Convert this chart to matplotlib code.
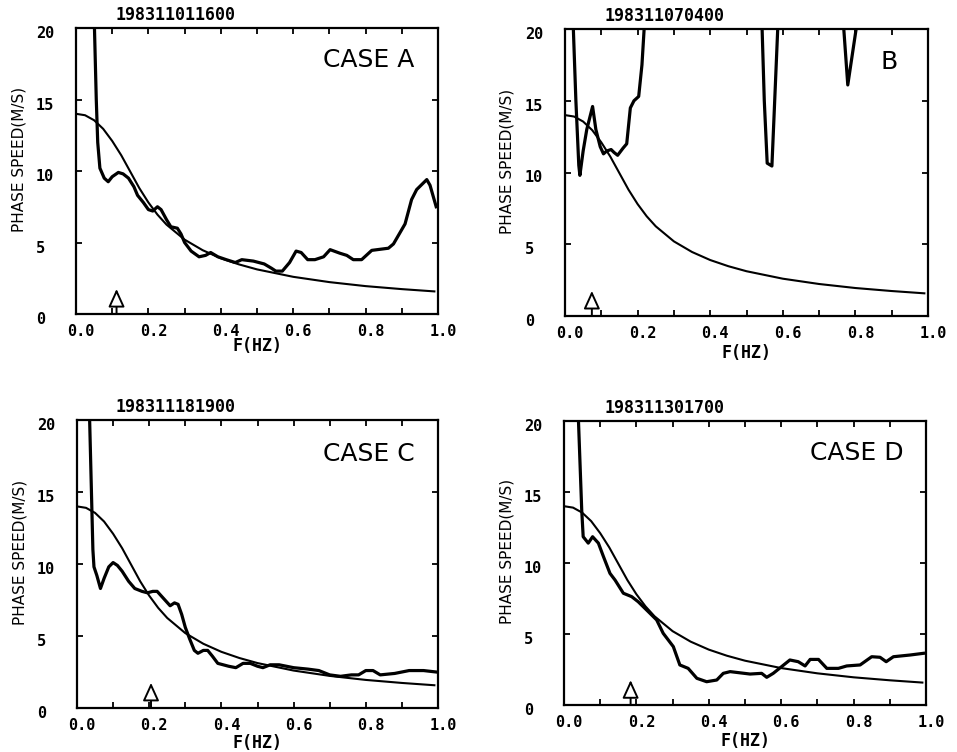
import numpy as np
import matplotlib
matplotlib.use('Agg')
import matplotlib.pyplot as plt
from matplotlib.ticker import MultipleLocator
from matplotlib.transforms import ScaledTranslation

nan = np.nan

# theoretical phase speed curve (same in all four panels)
model_f = [0.0, 0.025, 0.05, 0.075, 0.1, 0.125, 0.15, 0.175, 0.2, 0.225, 0.25, 0.3, 0.35,
           0.4, 0.45, 0.5, 0.6, 0.7, 0.8, 0.9, 0.99]
model_c = [14.0, 13.9, 13.55, 12.95, 12.1, 11.1, 9.95, 8.8, 7.8, 6.95, 6.25, 5.2, 4.46,
           3.9, 3.47, 3.12, 2.6, 2.23, 1.95, 1.74, 1.58]

# measured curves
a_f = [0.051, 0.056, 0.060, 0.066, 0.078, 0.089, 0.100, 0.117, 0.130, 0.145, 0.160, 0.170,
       0.186, 0.200, 0.212, 0.225, 0.235, 0.250, 0.262, 0.280, 0.290, 0.300, 0.318, 0.340,
       0.358, 0.372, 0.392, 0.415, 0.440, 0.458, 0.490, 0.520, 0.540, 0.552, 0.570, 0.590,
       0.608, 0.622, 0.640, 0.660, 0.684, 0.702, 0.729, 0.748, 0.766, 0.789, 0.817, 0.863,
       0.877, 0.909, 0.927, 0.941, 0.969, 0.978, 0.995]
a_c = [20.0, 15.0, 12.0, 10.2, 9.5, 9.25, 9.6, 9.9, 9.8, 9.5, 8.9, 8.3,
       7.8, 7.3, 7.2, 7.5, 7.3, 6.6, 6.1, 6.0, 5.6, 5.0, 4.4, 4.0,
       4.1, 4.3, 4.0, 3.8, 3.6, 3.8, 3.7, 3.5, 3.2, 3.0, 3.0, 3.6,
       4.4, 4.3, 3.8, 3.8, 4.0, 4.5, 4.25, 4.1, 3.8, 3.8, 4.45, 4.6,
       4.9, 6.3, 8.0, 8.7, 9.4, 9.0, 7.5]

b_f = [0.023, 0.030, 0.038, 0.041, 0.050, 0.060, 0.076, 0.085, 0.097, 0.106, 0.115, 0.127,
       0.135, 0.145, 0.160, 0.170, 0.180, 0.190, 0.203, 0.212, 0.218,
       0.30,
       0.543, 0.549, 0.557, 0.570, 0.576, 0.586,
       0.70,
       0.768, 0.779, 0.802]
b_c = [20.0, 15.0, 10.5, 9.8, 11.5, 13.0, 14.6, 13.0, 11.8, 11.3, 11.5, 11.6,
       11.4, 11.2, 11.7, 12.0, 14.5, 15.0, 15.3, 17.5, 20.0,
       nan,
       20.0, 15.0, 10.65, 10.45, 14.0, 20.0,
       nan,
       20.0, 16.1, 20.0]

c_f = [0.035, 0.040, 0.044, 0.047, 0.055, 0.065, 0.075, 0.088, 0.100, 0.112, 0.125, 0.143,
       0.160, 0.180, 0.195, 0.210, 0.222, 0.240, 0.258, 0.270, 0.280, 0.290, 0.300, 0.312,
       0.325, 0.335, 0.350, 0.362, 0.375, 0.390, 0.420, 0.440, 0.460, 0.480, 0.500, 0.515,
       0.535, 0.560, 0.600, 0.640, 0.670, 0.700, 0.730, 0.760, 0.780, 0.800, 0.820, 0.840,
       0.880, 0.920, 0.960, 0.995]
c_c = [20.0, 15.0, 11.0, 9.8, 9.2, 8.3, 9.0, 9.8, 10.1, 9.9, 9.5, 8.8,
       8.3, 8.1, 8.0, 8.1, 8.1, 7.6, 7.1, 7.3, 7.2, 6.5, 5.6, 4.8,
       4.0, 3.8, 4.0, 4.0, 3.6, 3.1, 2.9, 2.8, 3.1, 3.1, 2.9, 2.8,
       3.0, 3.0, 2.8, 2.7, 2.6, 2.3, 2.2, 2.3, 2.3, 2.6, 2.6, 2.3,
       2.4, 2.6, 2.6, 2.5]

d_f = [0.040, 0.049, 0.053, 0.067, 0.079, 0.095, 0.109, 0.127, 0.141, 0.164, 0.187, 0.205,
       0.233, 0.256, 0.274, 0.302, 0.320, 0.343, 0.367, 0.394, 0.422, 0.440, 0.459, 0.514,
       0.546, 0.560, 0.578, 0.601, 0.624, 0.647, 0.666, 0.680, 0.703, 0.726, 0.758, 0.781,
       0.818, 0.850, 0.873, 0.890, 0.910, 0.956, 0.993]
d_c = [20.0, 13.7, 11.85, 11.4, 11.85, 11.4, 10.45, 9.27, 8.8, 7.87, 7.63, 7.27,
       6.57, 5.99, 5.05, 4.11, 2.82, 2.58, 1.88, 1.64, 1.76, 2.23, 2.35, 2.18,
       2.23, 1.95, 2.23, 2.7, 3.17, 3.05, 2.75, 3.21, 3.21, 2.58, 2.58, 2.75,
       2.82, 3.4, 3.36, 3.05, 3.4, 3.52, 3.64]

titles = ['198311011600', '198311070400', '198311181900', '198311301700']
cases = ['CASE A', 'B', 'CASE C', 'CASE D']
arrow_f = [0.112, 0.074, 0.205, 0.184]
measured = [(a_f, a_c), (b_f, b_c), (c_f, c_c), (d_f, d_c)]

W, H = 957, 752
# axes boxes in pixels: left, top, right, bottom
boxes = [(76, 28, 438, 314), (565, 29, 928, 316), (77, 420, 438, 708), (564, 421, 926, 705)]
case_pos = [(0.936, 0.888), (0.917, 0.885), (0.936, 0.882), (0.939, 0.887)]
title_x = [0.276, 0.275, 0.274, 0.279]
xlab_pad = [-1, 2, 1, 2]

mono = 'DejaVu Sans Mono'

fig = plt.figure(figsize=(W / 100, H / 100), dpi=100)
ydown = ScaledTranslation(0, -4 / 100, fig.dpi_scale_trans)
xright = ScaledTranslation(5 / 100, 0, fig.dpi_scale_trans)

for i in range(4):
    l, t, r, b = boxes[i]
    ax = fig.add_axes([l / W, 1 - b / H, (r - l) / W, (b - t) / H])
    ax.plot(model_f, model_c, color='black', lw=1.5)
    mf, mc = measured[i]
    ax.plot(mf, mc, color='black', lw=2.3, solid_joinstyle='round')
    ax.set_xlim(0, 1)
    ax.set_ylim(0, 20)
    ax.xaxis.set_minor_locator(MultipleLocator(0.1))
    ax.set_yticks([0, 5, 10, 15, 20])
    ax.set_xticks([0, 0.2, 0.4, 0.6, 0.8, 1.0])
    ax.set_xticklabels(['0.0', '0.2', '0.4', '0.6', '0.8', '1.0'])
    ax.tick_params(axis='both', which='both', direction='in', top=True, right=True,
                   length=4, width=1.3)
    ax.tick_params(axis='x', which='major', pad=7)
    ax.tick_params(axis='y', which='major', pad=29)
    for lab in ax.get_xticklabels():
        lab.set_fontfamily(mono)
        lab.set_fontweight('bold')
        lab.set_fontsize(11)
        lab.set_transform(lab.get_transform() + xright)
    for lab in ax.get_yticklabels():
        lab.set_fontfamily(mono)
        lab.set_fontweight('bold')
        lab.set_fontsize(11)
        lab.set_horizontalalignment('left')
        lab.set_transform(lab.get_transform() + ydown)
    for sp in ax.spines.values():
        sp.set_linewidth(1.6)
    ax.set_xlabel('F(HZ)', fontfamily=mono, fontweight='bold', fontsize=12, labelpad=xlab_pad[i])
    ax.set_ylabel('PHASE SPEED(M/S)', fontsize=11)
    ax.yaxis.set_label_coords(-0.138, 0.54)
    ax.text(title_x[i], 1.045, titles[i], transform=ax.transAxes, ha='center', va='center',
            fontfamily=mono, fontweight='bold', fontsize=12)
    cx, cy = case_pos[i]
    ax.text(cx, cy, cases[i], transform=ax.transAxes, ha='right', va='center', fontsize=18)
    ax.annotate('', xy=(arrow_f[i], 1.75), xytext=(arrow_f[i], 0),
                arrowprops=dict(arrowstyle='-|>,head_length=1.1,head_width=0.5',
                                fc='white', ec='black', lw=1.4, shrinkA=0, shrinkB=0))

fig.savefig('out.png', dpi=100)
